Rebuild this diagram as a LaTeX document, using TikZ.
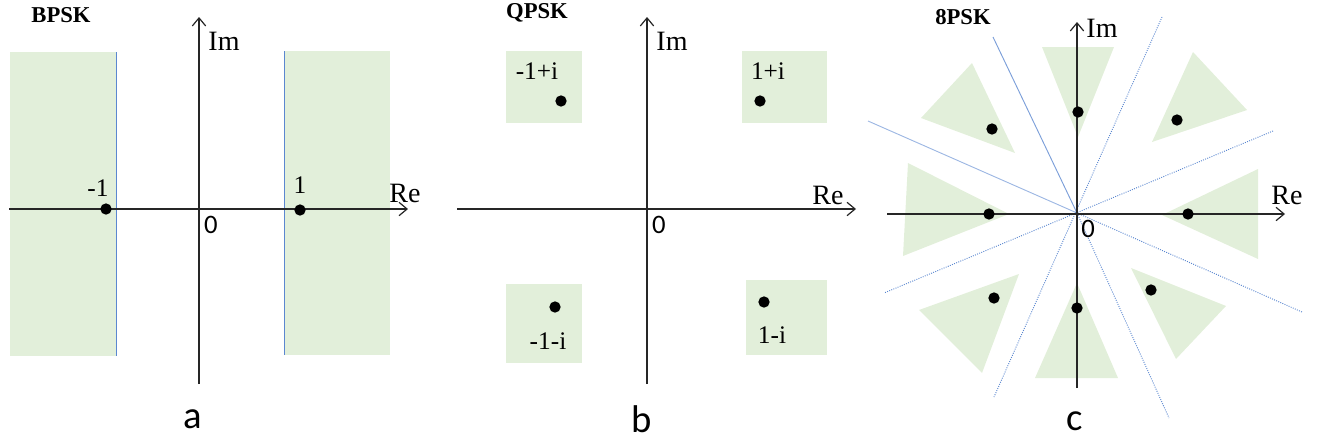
\documentclass[tikz,border=0pt]{standalone}
\usepackage{fontspec}
\setmainfont{Liberation Serif}
\newfontfamily\calib{Carlito}
\usetikzlibrary{arrows.meta}
\definecolor{regfill}{HTML}{E2EFDA}
\definecolor{bndblue}{HTML}{5B87D0}
\tikzset{
  axis/.style={line width=1.1pt, black!85},
  axisarrow/.style={axis, -{Straight Barb[length=6pt,width=10pt,line width=0.9pt]}},
  region/.style={fill=regfill, draw=none},
  bound/.style={line width=0.7pt, bndblue},
  boundd/.style={line width=0.7pt, bndblue, densely dotted},
  sym/.style={circle, fill=black, inner sep=0pt, minimum size=8.5pt},
  lab/.style={font=\fontsize{19}{21}\selectfont, inner sep=0pt},
  axlab/.style={font=\fontsize{21}{23}\selectfont, inner sep=0pt},
  zero/.style={font=\calib\fontsize{20}{22}\selectfont, inner sep=0pt},
  title/.style={font=\bfseries\fontsize{17}{19}\selectfont, inner sep=0pt},
  panel/.style={font=\calib\fontsize{29}{32}\selectfont, inner sep=0pt},
}
\begin{document}
\begin{tikzpicture}[x=0.75pt, y=-0.75pt]
\useasboundingbox (0,0) rectangle (1329,443);
% ---------------- BPSK ----------------
\fill[region] (10,52) rectangle (116,356);
\fill[region] (284,51) rectangle (390,355);
\draw[bound] (116,52) -- (116,356);
\draw[bound] (284,51) -- (284,355);
\coordinate (a-xs) at (9,209);
\coordinate (a-xe) at (408,209);
\coordinate (a-ys) at (199,384);
\coordinate (a-ye) at (199,17);
\draw[axisarrow] (a-xs) -- (a-xe);
\draw[axisarrow] (a-ys) -- (a-ye);
\node[sym] (a-m1) at (106,209) {};
\node[sym] (a-p1) at (300,210) {};
\node[lab] (a-lm1) at (98,188) {-1};
\node[lab] (a-lp1) at (300,185) {1};
\node[axlab] (a-re) at (405,193) {Re};
\node[axlab] (a-im) at (224,41) {Im};
\node[zero] (a-0) at (211,225) {0};
\node[title] (a-t) at (61,15) {BPSK};
\node[panel] (a-p) at (193,419) {a};
% ---------------- QPSK ----------------
\fill[region] (506,51) rectangle (582,123);
\fill[region] (742,51) rectangle (827,123);
\fill[region] (506,284) rectangle (582,363);
\fill[region] (746,280) rectangle (827,355);
\coordinate (b-xs) at (457,209);
\coordinate (b-xe) at (856,209);
\coordinate (b-ys) at (647,384);
\coordinate (b-ye) at (647,17);
\draw[axisarrow] (b-xs) -- (b-xe);
\draw[axisarrow] (b-ys) -- (b-ye);
\node[sym] (b-ul) at (561,101) {};
\node[sym] (b-ur) at (760,101) {};
\node[sym] (b-ll) at (555,307) {};
\node[sym] (b-lr) at (764,302) {};
\node[lab] (b-lul) at (537,71) {-1+i};
\node[lab] (b-lur) at (768,71) {1+i};
\node[lab] (b-lll) at (548,341) {-1-i};
\node[lab] (b-llr) at (772,335) {1-i};
\node[axlab] (b-re) at (828,195) {Re};
\node[axlab] (b-im) at (672,41) {Im};
\node[zero] (b-0) at (659,225) {0};
\node[title] (b-t) at (537,13) {QPSK};
\node[panel] (b-p) at (642,419) {b};
% ---------------- 8PSK ----------------
\fill[region] (1042,47) -- (1114,47) -- (1078,137) -- cycle;
\fill[region] (1035,378) -- (1118,378) -- (1077,283) -- cycle;
\fill[region] (908,163) -- (903,256) -- (1009,214) -- cycle;
\fill[region] (1258,169) -- (1258,259) -- (1162,215) -- cycle;
\fill[region] (1193,52) -- (1247,110) -- (1152,142) -- cycle;
\fill[region] (972,63) -- (921,118) -- (1015,153) -- cycle;
\fill[region] (919,310) -- (1019,274) -- (982,373) -- cycle;
\fill[region] (1131,268) -- (1226,306) -- (1176,359) -- cycle;
\coordinate (c-o) at (1077,213);
\coordinate (c-l1a) at (993,37);
\coordinate (c-l1b) at (1169,418);
\coordinate (c-l2a) at (1162,17);
\coordinate (c-l2b) at (994,397);
\coordinate (c-l3a) at (868,121);
\coordinate (c-l3b) at (1302,312);
\coordinate (c-l4a) at (1273,131);
\coordinate (c-l4b) at (884,293);
\draw[bound, opacity=0.8] (c-l1a) -- (c-o);
\draw[boundd] (c-o) -- (c-l1b);
\draw[boundd] (c-l2a) -- (c-l2b);
\draw[bound, opacity=0.6] (c-l3a) -- (c-o);
\draw[boundd] (c-o) -- (c-l3b);
\draw[boundd] (c-l4a) -- (c-l4b);
\coordinate (c-xs) at (887,214);
\coordinate (c-xe) at (1285,214);
\coordinate (c-ys) at (1077,388);
\coordinate (c-ye) at (1077,22);
\draw[axisarrow] (c-xs) -- (c-xe);
\draw[axisarrow] (c-ys) -- (c-ye);
\node[sym] (c-n) at (1078,112) {};
\node[sym] (c-e) at (1188,214) {};
\node[sym] (c-w) at (989,214) {};
\node[sym] (c-s) at (1077,308) {};
\node[sym] (c-ne) at (1177,120) {};
\node[sym] (c-nw) at (992,129) {};
\node[sym] (c-sw) at (994,298) {};
\node[sym] (c-se) at (1151,290) {};
\node[axlab] (c-im) at (1102,28) {Im};
\node[axlab] (c-re) at (1287,195) {Re};
\node[zero] (c-0) at (1088,229) {0};
\node[title] (c-t) at (963,17) {8PSK};
\node[panel] (c-p) at (1075,421) {c};
\end{tikzpicture}
\end{document}
